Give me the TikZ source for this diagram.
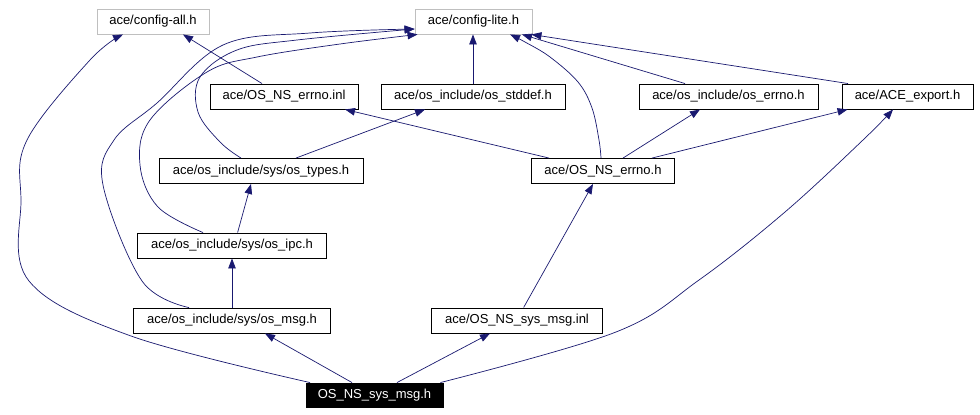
\documentclass[tikz,border=0pt]{standalone}
\usepackage{fontspec}
\setmainfont{Liberation Sans}
\usetikzlibrary{arrows.meta,calc}
\definecolor{edgeblue}{HTML}{191970}
\definecolor{graybd}{HTML}{BFBFBF}
\begin{document}
\begin{tikzpicture}[x=1pt,y=-1pt,
  box/.style={draw=black,line width=0.9pt,fill=white,minimum height=25pt,inner sep=0pt,font=\fontsize{13}{15}\selectfont},
  extbox/.style={box,draw=graybd},
  rootbox/.style={box,fill=black,text=white,minimum height=24pt},
  dep/.style={draw=edgeblue,line width=0.7pt,-{Triangle[length=10pt,width=7.5pt]}},
]
\useasboundingbox[fill=white] (0,0) rectangle (980,415);

\node[extbox,minimum width=112pt] (all) at (153,21.5) {ace/config-all.h};
\node[extbox,minimum width=117pt] (lite) at (473.5,21.5) {ace/config-lite.h};
\node[box,minimum width=148pt] (inl) at (284,96.5) {ace/OS\_NS\_errno.inl};
\node[box,minimum width=184pt] (stddef) at (473,96.5) {ace/os\_include/os\_stddef.h};
\node[box,minimum width=179pt] (oserrno) at (728.5,96.5) {ace/os\_include/os\_errno.h};
\node[box,minimum width=131pt] (export) at (907.5,96.5) {ace/ACE\_export.h};
\node[box,minimum width=204pt] (types) at (261,171) {ace/os\_include/sys/os\_types.h};
\node[box,minimum width=143pt] (nserrno) at (603,171) {ace/OS\_NS\_errno.h};
\node[box,minimum width=189pt] (ipc) at (232,245.5) {ace/os\_include/sys/os\_ipc.h};
\node[box,minimum width=197pt] (msg) at (232,320.5) {ace/os\_include/sys/os\_msg.h};
\node[box,minimum width=171pt] (msginl) at (517,320.5) {ace/OS\_NS\_sys\_msg.inl};
\node[rootbox,minimum width=137pt] (root) at (374.5,395) {OS\_NS\_sys\_msg.h};

% root -> config-all
\draw[dep] plot[smooth,tension=0.6] coordinates {([xshift=-64.5pt]root.north) (131,336) (29,281) (21,200) (27,140) (90,60) ([xshift=-30pt]all.south)};
% inl -> config-all
\draw[dep] ([xshift=-22pt]inl.north) -- ([xshift=30pt]all.south);
% msg -> config-lite
\draw[dep] plot[smooth,tension=0.6] coordinates {([xshift=-43pt]msg.north) (142,281) (103,185) (114,140) (157,103) (223,45) (310,33) ([yshift=-7.5pt]lite.west)};
% ipc -> config-lite
\draw[dep] plot[smooth,tension=0.6] coordinates {([xshift=-29pt]ipc.north) (158,207) (140,165) (150,120) (207,72) (257,57) (340,44) ([xshift=3pt]lite.south west)};
% types -> config-lite
\draw[dep] plot[smooth,tension=0.6] coordinates {([xshift=-20pt]types.north) (220,142) (198,112) (200,77) (237,50) (297,40) ([yshift=-7.5pt]lite.west)};
% types -> stddef
\draw[dep] ([xshift=35pt]types.north) -- ([xshift=-48pt]stddef.south);
% stddef -> config-lite
\draw[dep] (stddef.north) -- (stddef.north |- lite.south);
% nserrno -> inl
\draw[dep] ([xshift=-54pt]nserrno.north) -- ([xshift=61pt]inl.south);
% nserrno -> config-lite
\draw[dep] plot[smooth,tension=0.6] coordinates {([xshift=-2pt]nserrno.north) (599,140) (592,108) (578,82) (550,57) (525,42) ([xshift=36.5pt]lite.south)};
% nserrno -> os_errno
\draw[dep] ([xshift=20pt]nserrno.north) -- ([xshift=-28.5pt]oserrno.south);
% nserrno -> export
\draw[dep] ([xshift=49pt]nserrno.north) -- ([xshift=6pt]export.south west);
% os_errno -> config-lite
\draw[dep] ([xshift=-43.5pt]oserrno.north) -- ([xshift=48.5pt]lite.south);
% export -> config-lite
\draw[dep] ([xshift=-59.5pt]export.north) -- ([xshift=-1pt]lite.south east);
% root -> export
\draw[dep] plot[smooth,tension=0.6] coordinates {([xshift=-3pt]root.north east) (616,332) (699,280) (785,212) (863,140) ([xshift=-14.5pt]export.south)};
% ipc -> types
\draw[dep] ([xshift=5.6pt]ipc.north) -- ([xshift=-10pt]types.south);
% msg -> ipc
\draw[dep] (msg.north) -- (ipc.south);
% root -> msg
\draw[dep] ([xshift=-22.5pt]root.north) -- ([xshift=33pt]msg.south);
% root -> msginl
\draw[dep] ([xshift=22.5pt]root.north) -- ([xshift=-27pt]msginl.south);
% msginl -> nserrno
\draw[dep] ([xshift=6.6pt]msginl.north) -- ([xshift=-10pt]nserrno.south);
\end{tikzpicture}
\end{document}
